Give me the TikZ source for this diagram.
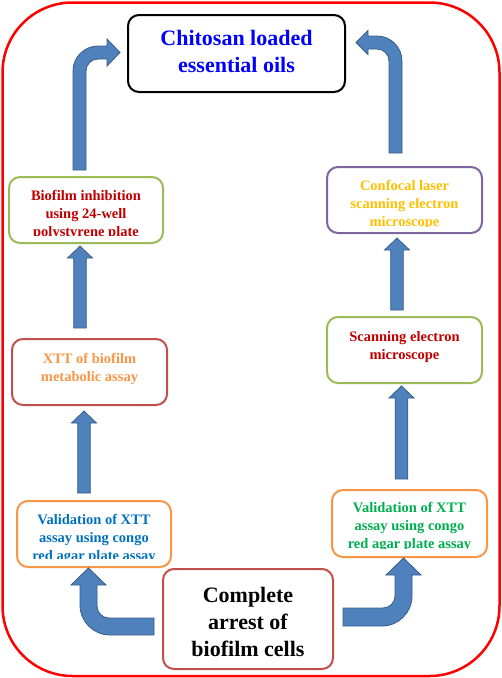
\documentclass[tikz,border=0pt]{standalone}
\usepackage{fontspec}
\setmainfont{Liberation Serif}
\usetikzlibrary{calc}
\definecolor{arrowfill}{HTML}{4F81BD}
\definecolor{arrowdraw}{HTML}{385D8A}
\definecolor{olivegreen}{HTML}{9BBB59}
\definecolor{brickred}{HTML}{C0504D}
\definecolor{orangeb}{HTML}{F79646}
\definecolor{purpleb}{HTML}{8064A2}
\definecolor{darkredt}{HTML}{C00000}
\definecolor{bluet}{HTML}{0070C0}
\definecolor{greent}{HTML}{00B050}
\definecolor{goldt}{HTML}{FFC000}
\tikzset{
  box/.style={draw, line width=2pt, rounded corners=11pt, fill=white, inner sep=0pt},
  smallbox/.style={box, minimum width=154pt, minimum height=66pt},
  boxtext/.style={font=\bfseries\fontsize{14.5}{18}\selectfont, align=center, inner sep=0pt},
  bigtext/.style={font=\bfseries\fontsize{22}{27}\selectfont, align=center, inner sep=0pt},
  barrow/.style={fill=arrowfill, draw=arrowdraw, line width=0.8pt, line join=miter}
}
% straight up block arrow: x centre, y of tail, y of tip
\newcommand{\myuparrow}[3]{%
  \path[barrow] (#1-6.3,#2) -- (#1-6.3,#3+12) -- (#1-12.5,#3+12) -- (#1,#3)
    -- (#1+12.5,#3+12) -- (#1+6.3,#3+12) -- (#1+6.3,#2) -- cycle;}
\begin{document}
\begin{tikzpicture}[x=1pt,y=-1pt]
\useasboundingbox (0,0) rectangle (502,678);
% outer frame
\draw[red, line width=2.5pt, rounded corners=70pt] (2.5,2.5) rectangle (499.5,676);

% boxes
\node[box, minimum width=217pt, minimum height=77pt, draw=black] (top) at (236.5,53.5) {};
\node[bigtext, text=blue] at ($(top.center)+(0,-2)$) {Chitosan loaded\\essential oils};

\node[smallbox, draw=olivegreen] (b1) at (86,210) {};
\node[smallbox, draw=brickred, minimum width=155pt] (b2) at (89.5,372) {};
\node[smallbox, draw=orangeb] (b3) at (94,534) {};
\node[box, draw=brickred, minimum width=170pt, minimum height=100pt] (cc) at (248,619) {};
\node[smallbox, draw=orangeb, minimum width=155pt, minimum height=67pt] (r3) at (409.5,523.5) {};
\node[smallbox, draw=olivegreen, minimum width=155pt] (r2) at (404.5,350) {};
\node[smallbox, draw=purpleb, minimum width=155pt] (r1) at (404.5,200) {};

\begin{scope}
  \clip (b1.north west) rectangle ($(b1.south east)+(0,-9)$);
  \node[boxtext, text=darkredt] (t1) at ($(b1.center)+(0,5)$) {Biofilm inhibition\\using 24-well\\polystyrene plate};
\end{scope}
\node[boxtext, text=orangeb] (t2) at ($(b2.center)+(0,-3)$) {XTT of biofilm\\metabolic assay};
\begin{scope}
  \clip (b3.north west) rectangle ($(b3.south east)+(0,-10)$);
  \node[boxtext, text=bluet] (t3) at ($(b3.center)+(0,5)$) {Validation of XTT\\assay using congo\\red agar plate assay};
\end{scope}
\node[bigtext, text=black] (tc) at ($(cc.center)+(0,2.5)$) {Complete\\arrest of\\biofilm cells};
\begin{scope}
  \clip (r3.north west) rectangle ($(r3.south east)+(0,-10)$);
  \node[boxtext, text=greent] (tr3) at ($(r3.center)+(0,3.5)$) {Validation of XTT\\assay using congo\\red agar plate assay};
\end{scope}
\node[boxtext, text=darkredt] (tr2) at ($(r2.center)+(0,-3)$) {Scanning electron\\microscope};
\begin{scope}
  \clip (r1.north west) rectangle ($(r1.south east)+(0,-8)$);
  \node[boxtext, text=goldt] (tr1) at ($(r1.center)+(0,5)$) {Confocal laser\\scanning electron\\microscope};
\end{scope}

% straight arrows
\myuparrow{80}{328}{246}
\myuparrow{84}{493}{411}
\myuparrow{397}{310}{238}
\myuparrow{401.5}{479}{386}

% top-left bent arrow
\path[barrow] (73,170) -- (73,71) .. controls (73,57.2) and (84.2,46) .. (98,46)
  -- (107,46) -- (107,39) -- (120,52.5) -- (107,66) -- (107,59) -- (98,59)
  .. controls (91.4,59) and (86,64.4) .. (86,71) -- (86,170) -- cycle;
% top-right bent arrow
\path[barrow] (389,153) -- (389,61) .. controls (389,54.4) and (383.6,49) .. (377,49)
  -- (368,49) -- (368,54.5) -- (356,42.5) -- (368,30.5) -- (368,36) -- (377,36)
  .. controls (390.8,36) and (402,47.2) .. (402,61) -- (402,153) -- cycle;
% bottom-left bent arrow
\path[barrow] (154,618) -- (109,618) .. controls (102.4,618) and (97,612.6) .. (97,606)
  -- (97,585) -- (106,585) -- (88.5,568) -- (71,585) -- (80,585) -- (80,605)
  .. controls (80,621.6) and (93.4,635) .. (110,635) -- (154,635) -- cycle;
% bottom-right bent arrow
\path[barrow] (343,608) -- (383,608) .. controls (389.6,608) and (395,602.6) .. (395,596)
  -- (395,575) -- (386,575) -- (403.5,558) -- (421,575) -- (412,575) -- (412,596)
  .. controls (412,612.6) and (398.6,626) .. (382,626) -- (343,626) -- cycle;
\end{tikzpicture}
\end{document}
